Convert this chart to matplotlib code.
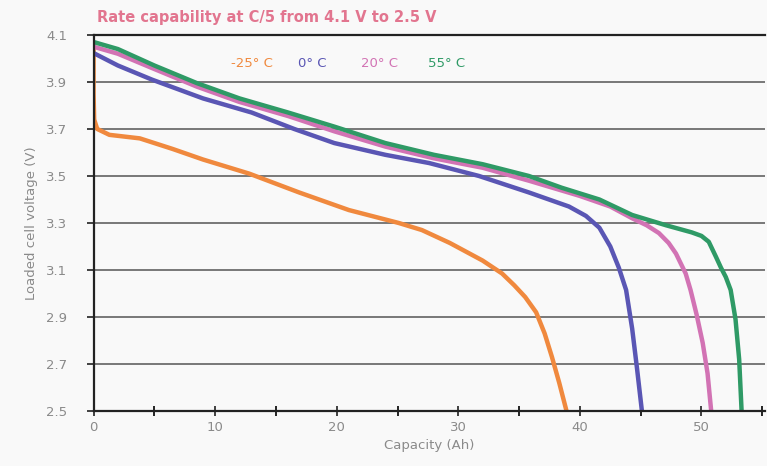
import matplotlib.pyplot as plt

# Discharge curves (capacity in Ah, voltage in V)
cap_m25 = [0.0, 0.0, 0.05, 0.3, 1.3, 3.8, 6.5, 9.0, 12.8, 16.9, 21.0, 25.1, 27.0,
           29.3, 32.0, 33.6, 34.6, 35.5, 36.4, 37.1, 37.7, 38.3, 38.9]
v_m25 = [4.06, 3.85, 3.74, 3.70, 3.675, 3.66, 3.615, 3.57, 3.51, 3.43, 3.355, 3.30, 3.27,
         3.215, 3.14, 3.085, 3.035, 2.985, 2.92, 2.83, 2.73, 2.62, 2.50]

cap_0 = [0.0, 2.0, 4.8, 9.0, 13.0, 16.5, 19.8, 24.0, 27.6, 31.7, 35.8, 39.1, 40.5,
         41.6, 42.5, 43.2, 43.8, 44.3, 44.7, 45.1]
v_0 = [4.023, 3.97, 3.91, 3.83, 3.77, 3.70, 3.64, 3.59, 3.555, 3.50, 3.43, 3.37, 3.33,
       3.28, 3.20, 3.11, 3.015, 2.85, 2.68, 2.50]

cap_20 = [0.0, 2.0, 5.0, 8.5, 12.0, 16.0, 19.8, 24.0, 28.0, 32.0, 35.8, 40.0, 42.5,
          44.3, 45.5, 46.5, 47.3, 47.9, 48.7, 49.1, 49.6, 50.1, 50.5, 50.8]
v_20 = [4.05, 4.02, 3.955, 3.88, 3.815, 3.755, 3.69, 3.625, 3.575, 3.535, 3.48, 3.415, 3.37,
        3.32, 3.29, 3.257, 3.215, 3.17, 3.085, 3.015, 2.91, 2.79, 2.66, 2.50]

cap_55 = [0.0, 2.0, 5.0, 8.5, 12.0, 16.0, 19.8, 24.0, 28.0, 32.0, 35.8, 38.5, 41.6,
          44.3, 47.1, 49.2, 50.0, 50.6, 51.2, 51.6, 52.0, 52.4, 52.8, 53.1, 53.3]
v_55 = [4.07, 4.04, 3.97, 3.895, 3.83, 3.77, 3.71, 3.64, 3.59, 3.55, 3.50, 3.45, 3.40,
        3.334, 3.29, 3.26, 3.245, 3.22, 3.155, 3.11, 3.07, 3.015, 2.89, 2.72, 2.50]

labels = ["-25\u00b0 C", "0\u00b0 C", "20\u00b0 C", "55\u00b0 C"]
colors = ["#f0893e", "#5a56b4", "#d273b4", "#2f9a66"]
label_x = [11.3, 16.8, 22.0, 27.5]

y_ticks = [4.1, 3.9, 3.7, 3.5, 3.3, 3.1, 2.9, 2.7, 2.5]

fig = plt.figure(figsize=(7.67, 4.66), dpi=100, facecolor="#f9f9f9")
ax = fig.add_axes([0.122, 0.118, 0.875, 0.807])
ax.set_facecolor("#f9f9f9")

series = [(cap_m25, v_m25), (cap_0, v_0), (cap_20, v_20), (cap_55, v_55)]
for (cx, vy), col in zip(series, colors):
    ax.plot(cx, vy, color=col, lw=3.2, solid_capstyle="butt", solid_joinstyle="round")

ax.set_xlim(0, 55.2)
ax.set_ylim(2.5, 4.1)

ax.set_yticks(y_ticks)
ax.set_yticklabels([f"{t:.1f}" for t in y_ticks])
ax.set_xticks(range(0, 60, 10))
ax.set_xticks(range(0, 60, 5), minor=True)

for t in y_ticks[1:-1]:
    ax.axhline(t, color="#555555", lw=1.1, zorder=0)

ax.tick_params(axis="both", colors="#222222", labelcolor="#8a8a8a", labelsize=9.5)
ax.tick_params(axis="x", which="both", direction="inout", length=7, width=1.2, pad=4)
ax.tick_params(axis="y", direction="out", length=5, width=1.2, pad=14)

for side in ["left", "bottom", "top"]:
    ax.spines[side].set_color("#222222")
    ax.spines[side].set_linewidth(1.6)
ax.spines["right"].set_visible(False)

ax.set_xlabel("Capacity (Ah)", color="#8a8a8a", fontsize=9.5, labelpad=3)
ax.set_ylabel("Loaded cell voltage (V)", color="#8a8a8a", fontsize=9.5, labelpad=6)

for lab, col, lx in zip(labels, colors, label_x):
    ax.text(lx, 3.98, lab, color=col, fontsize=9.5, ha="left", va="center")

fig.text(0.127, 0.963, "Rate capability at C/5 from 4.1 V to 2.5 V",
         color="#e2758f", fontsize=10.5, fontweight="bold", ha="left", va="center")

fig.savefig("out.png", dpi=100, facecolor=fig.get_facecolor())
